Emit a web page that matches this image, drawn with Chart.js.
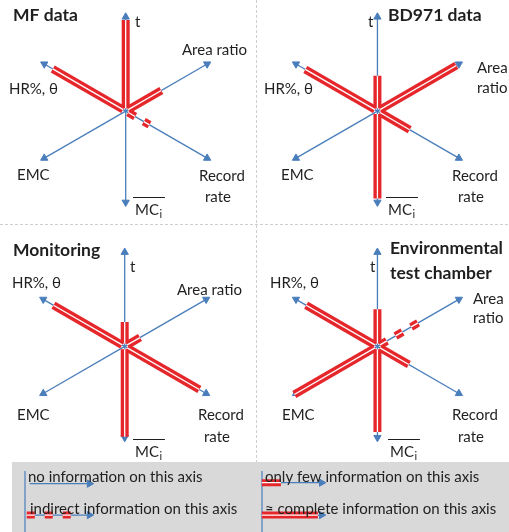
<!DOCTYPE html>
<html>
<head>
<meta charset="utf-8">
<script src="https://cdn.jsdelivr.net/npm/chart.js@4"></script>
<style>
  body { margin: 0; background: #fff; }
  #wrap { width: 509px; height: 532px; position: relative; }
</style>
</head>
<body>
<div id="wrap"><canvas id="diagram"></canvas></div>
<script>
// --- data ---
const panelTitles = [["MF data"], ["BD971 data"], ["Monitoring"], ["Environmental", "test chamber"]];
const axisNames = ["t", "Area ratio", "Record rate", "MCi", "EMC", "HR%, θ"];
const axisAngles = [90, 30, -30, -90, -150, 150];

// how far the red band goes along each axis (share of axis), same order as axisNames
const mfExtent         = [0.93, 0.42, 0.28, 0,    0,    0.86];
const bd971Extent      = [0.36, 0.93, 0.38, 0.92, 0,    0.85];
const monitoringExtent = [0.25, 0.18, 0.88, 0.95, 0,    0.84];
const chamberExtent    = [0.38, 0.50, 0.37, 0.90, 0.98, 0.84];

// kind of information on each axis
const mfKind         = ["complete", "complete", "indirect", "none", "none", "complete"];
const bd971Kind      = ["complete", "complete", "complete", "complete", "none", "complete"];
const monitoringKind = ["complete", "complete", "complete", "complete", "none", "complete"];
const chamberKind    = ["complete", "indirect", "complete", "complete", "complete", "complete"];

const legendLabels = ["no information on this axis", "only few information on this axis",
                      "indirect information on this axis", "≈ complete information on this axis"];
const legendExtent = [0, 0.3, 0.72, 0.88];
const legendKind   = ["none", "complete", "indirect", "complete"];

const extents = [mfExtent, bd971Extent, monitoringExtent, chamberExtent];
const kinds = [mfKind, bd971Kind, monitoringKind, chamberKind];

// --- layout ---
const BLUE = "#4a7ebb", RED = "#e5262b", TEXT = "#1f1f1f";
const centers = [[123, 108], [380, 108], [122, 348], [380, 348]];
const axisLength = 100, downLength = 97, bandStart = 3;

// label offsets from panel centre
const labelLayout = [
  { t: [12, -86], area: [[59, -58]], rec: [[76, 68], [82, 89]], mc: [12, 102], emc: [-106, 67], hr: [-114, -19], title: [-110, -93] },
  { t: [-12, -86], area: [[97, -40], [97, -20]], rec: [[72, 68], [78, 89]], mc: [8, 102], emc: [-99, 67], hr: [-116, -19], title: [8, -93] },
  { t: [8, -81], area: [[55, -58]], rec: [[76, 67], [82, 89]], mc: [13, 104], emc: [-105, 67], hr: [-110, -65], title: [-109, -98] },
  { t: [-10, -81], area: [[93, -49], [93, -30]], rec: [[72, 67], [78, 89]], mc: [10, 104], emc: [-98, 67], hr: [-110, -65], title: [10, -100] }
];
const legendOrigin = [[25, 488], [262, 487], [25, 520], [262, 520]];
const legendText = [[28, 477], [265, 477], [30, 509], [265, 509]];
const legendArrow = 65;

function pt(c, a, r) {
  const rad = a * Math.PI / 180;
  return { x: c[0] + r * Math.cos(rad), y: c[1] - r * Math.sin(rad) };
}

const datasets = [];

function arrow(p0, p1, angle) {
  datasets.push({
    data: [p0, p1], showLine: true, borderColor: BLUE, borderWidth: 1.3,
    pointRadius: [0, 4.2], pointStyle: "triangle", pointRotation: 90 - angle,
    pointBackgroundColor: BLUE, pointBorderColor: BLUE, pointBorderWidth: 1, order: 3
  });
}

function band(p0, p1, dashed, width) {
  const dash = dashed ? [8, 10] : [];
  datasets.push({ data: [p0, p1], showLine: true, borderColor: RED, borderWidth: width,
    borderDash: dash, borderCapStyle: "butt", pointRadius: 0, order: 2 });
  datasets.push({ data: [p0, p1], showLine: true, borderColor: "#ffffff", borderWidth: 1.3,
    borderDash: dash, borderCapStyle: "butt", pointRadius: 0, order: 1 });
}

centers.forEach((c, p) => {
  axisAngles.forEach((a, i) => {
    const len = a === -90 ? downLength : axisLength;
    arrow(pt(c, a, 0), pt(c, a, len - 4), a);
    const ext = extents[p][i];
    if (kinds[p][i] !== "none" && ext > 0) {
      band(pt(c, a, bandStart), pt(c, a, ext * len), kinds[p][i] === "indirect", 8);
    }
  });
});

legendOrigin.forEach((o, i) => {
  arrow({ x: o[0], y: o[1] }, { x: o[0] + legendArrow - 4, y: o[1] }, 0);
  if (legendKind[i] !== "none") {
    const x0 = legendKind[i] === "indirect" ? o[0] - 3 : o[0];
    band({ x: x0, y: o[1] }, { x: o[0] + legendExtent[i] * legendArrow, y: o[1] }, legendKind[i] === "indirect", 7);
  }
});

function drawMC(ctx, x, y) {
  ctx.font = "15px Lato";
  ctx.textAlign = "left";
  ctx.fillText("MC", x, y);
  const w = ctx.measureText("MC").width;
  ctx.font = "11px Lato";
  ctx.fillText("i", x + w + 0.5, y + 4);
  ctx.strokeStyle = TEXT;
  ctx.lineWidth = 1;
  ctx.beginPath();
  ctx.moveTo(x - 2, y - 12.5);
  ctx.lineTo(x + w + 6, y - 12.5);
  ctx.stroke();
}

const backdrop = {
  id: "backdrop",
  beforeDatasetsDraw(chart) {
    const ctx = chart.ctx;
    ctx.save();
    ctx.strokeStyle = "#cfcfcf";
    ctx.lineWidth = 1;
    ctx.setLineDash([3, 2]);
    ctx.beginPath();
    ctx.moveTo(256.5, 0); ctx.lineTo(256.5, 462);
    ctx.moveTo(0, 224.5); ctx.lineTo(509, 224.5);
    ctx.stroke();
    ctx.setLineDash([]);
    ctx.fillStyle = "#d9d9d9";
    ctx.fillRect(12, 462, 497, 70);
    ctx.strokeStyle = BLUE;
    ctx.lineWidth = 1.2;
    ctx.beginPath();
    ctx.moveTo(25, 471); ctx.lineTo(25, 532);
    ctx.moveTo(262, 471); ctx.lineTo(262, 532);
    ctx.stroke();
    ctx.restore();
  },
  afterDatasetsDraw(chart) {
    const ctx = chart.ctx;
    ctx.save();
    ctx.fillStyle = TEXT;
    ctx.textBaseline = "middle";
    ctx.textAlign = "left";
    centers.forEach((c, p) => {
      const L = labelLayout[p];
      ctx.font = "bold 17.5px Lato";
      panelTitles[p].forEach((line, k) => ctx.fillText(line, c[0] + L.title[0], c[1] + L.title[1] + k * 25));
      ctx.font = "15px Lato";
      ctx.fillText(axisNames[0], c[0] + L.t[0], c[1] + L.t[1]);
      const areaLines = L.area.length > 1 ? ["Area", "ratio"] : [axisNames[1]];
      areaLines.forEach((s, k) => ctx.fillText(s, c[0] + L.area[k][0], c[1] + L.area[k][1]));
      ["Record", "rate"].forEach((s, k) => ctx.fillText(s, c[0] + L.rec[k][0], c[1] + L.rec[k][1]));
      ctx.fillText(axisNames[4], c[0] + L.emc[0], c[1] + L.emc[1]);
      ctx.fillText(axisNames[5], c[0] + L.hr[0], c[1] + L.hr[1]);
      drawMC(ctx, c[0] + L.mc[0], c[1] + L.mc[1]);
    });
    ctx.font = "15px Lato";
    legendLabels.forEach((s, i) => ctx.fillText(s, legendText[i][0], legendText[i][1]));
    ctx.restore();
  }
};

new Chart(document.getElementById("diagram"), {
  type: "scatter",
  data: { datasets: datasets },
  options: {
    responsive: true,
    maintainAspectRatio: false,
    animation: false,
    layout: { padding: 0 },
    plugins: { legend: { display: false }, tooltip: { enabled: false } },
    scales: {
      x: { type: "linear", min: 0, max: 509, display: false },
      y: { type: "linear", min: 0, max: 532, reverse: true, display: false }
    }
  },
  plugins: [backdrop]
});
</script>
</body>
</html>
